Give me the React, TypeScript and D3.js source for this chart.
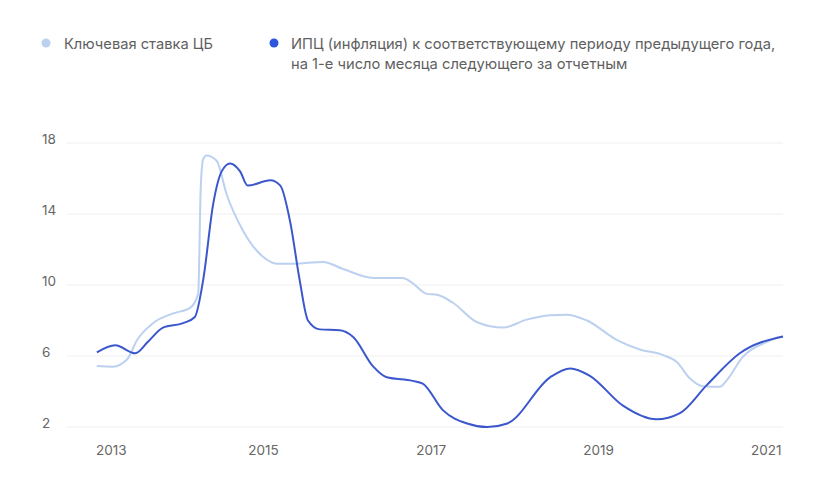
import React from "react";
import * as d3 from "d3";

const legendLabels = [
  "Ключевая ставка ЦБ",
  "ИПЦ (инфляция) к соответствующему периоду предыдущего года,",
  "на 1-е число месяца следующего за отчетным",
];

const yTicks = [2, 6, 10, 14, 18];
const xTicks = [2013, 2015, 2017, 2019, 2021];

// Key rate (decimal year, %)
const rateT = [2013.01, 2013.2, 2013.37, 2013.49, 2013.68, 2013.92, 2014.12, 2014.22, 2014.25, 2014.28, 2014.32, 2014.44, 2014.56, 2014.75, 2014.99, 2015.16, 2015.35, 2015.71, 2015.95, 2016.31, 2016.66, 2016.78, 2016.95, 2017.07, 2017.26, 2017.55, 2017.86, 2018.14, 2018.42, 2018.62, 2018.86, 2019.22, 2019.49, 2019.77, 2019.93, 2020.09, 2020.24, 2020.45, 2020.53, 2020.72, 2021.01, 2021.16, 2021.2];
const rateV = [5.43, 5.4, 5.8, 6.9, 7.85, 8.4, 8.7, 9.5, 15.5, 17.1, 17.3, 17.0, 15.1, 13.1, 11.6, 11.2, 11.2, 11.3, 10.9, 10.4, 10.4, 10.1, 9.5, 9.45, 9.0, 7.9, 7.6, 8.05, 8.3, 8.33, 8.0, 6.9, 6.37, 6.05, 5.67, 4.73, 4.3, 4.27, 4.64, 5.95, 6.8, 7.07, 7.1];

// CPI (decimal year, %)
const cpiT = [2013.01, 2013.23, 2013.47, 2013.62, 2013.8, 2014.04, 2014.18, 2014.28, 2014.4, 2014.5, 2014.6, 2014.72, 2014.81, 2015.08, 2015.2, 2015.32, 2015.43, 2015.53, 2015.67, 2015.91, 2016.07, 2016.31, 2016.47, 2016.78, 2016.9, 2017.14, 2017.43, 2017.67, 2017.91, 2018.42, 2018.66, 2018.89, 2019.29, 2019.69, 2019.97, 2020.29, 2020.68, 2021.2];
const cpiV = [6.2, 6.6, 6.15, 6.8, 7.6, 7.85, 8.2, 10.3, 14.6, 16.4, 16.85, 16.4, 15.6, 15.9, 15.6, 13.5, 10.3, 8.0, 7.5, 7.45, 7.07, 5.4, 4.8, 4.6, 4.45, 2.95, 2.2, 2.0, 2.2, 4.8, 5.3, 4.9, 3.2, 2.43, 2.78, 4.36, 6.14, 7.1];

const W = 825;
const H = 500;
const FONT = "Inter, 'Open Sans', sans-serif";
const LIGHT = "#bcd0f0";
const DARK = "#3b57cc";

export default function App() {
  const x = d3.scaleLinear().domain([2013, 2021.2]).range([96, 783]);
  const y = d3.scaleLinear().domain([2, 18]).range([427, 143]);
  const line = d3
    .line<[number, number]>()
    .x((d) => x(d[0]))
    .y((d) => y(d[1]))
    .curve(d3.curveMonotoneX);
  const rateData: [number, number][] = rateT.map((t, i) => [t, rateV[i]]);
  const cpiData: [number, number][] = cpiT.map((t, i) => [t, cpiV[i]]);

  return (
    <svg
      width={W}
      height={H}
      style={{ position: "absolute", left: 0, top: 0, background: "#fff" }}
      fontFamily={FONT}
    >
      <circle cx={46} cy={43} r={4.5} fill={LIGHT} />
      <text x={64} y={48.5} fontSize={14.7} fill="#5f5f5f">{legendLabels[0]}</text>
      <circle cx={274} cy={43} r={4.5} fill="#2d55e0" />
      <text x={291} y={48.5} fontSize={14.7} fill="#5f5f5f">{legendLabels[1]}</text>
      <text x={291} y={68.5} fontSize={14.7} fill="#5f5f5f">{legendLabels[2]}</text>

      {yTicks.map((v) => (
        <g key={v}>
          <line x1={67} x2={783} y1={y(v)} y2={y(v)} stroke="#efefef" strokeWidth={1} />
          <text x={42} y={y(v) + 1} fontSize={13.5} fill="#666">{v}</text>
        </g>
      ))}
      {xTicks.map((t, i) => (
        <text
          key={t}
          x={x(t)}
          y={455}
          fontSize={13.5}
          fill="#666"
          textAnchor={i === 0 ? "start" : "middle"}
        >
          {t}
        </text>
      ))}
      <path d={line(rateData) || ""} fill="none" stroke={LIGHT} strokeWidth={2} />
      <path d={line(cpiData) || ""} fill="none" stroke={DARK} strokeWidth={2} />
    </svg>
  );
}
